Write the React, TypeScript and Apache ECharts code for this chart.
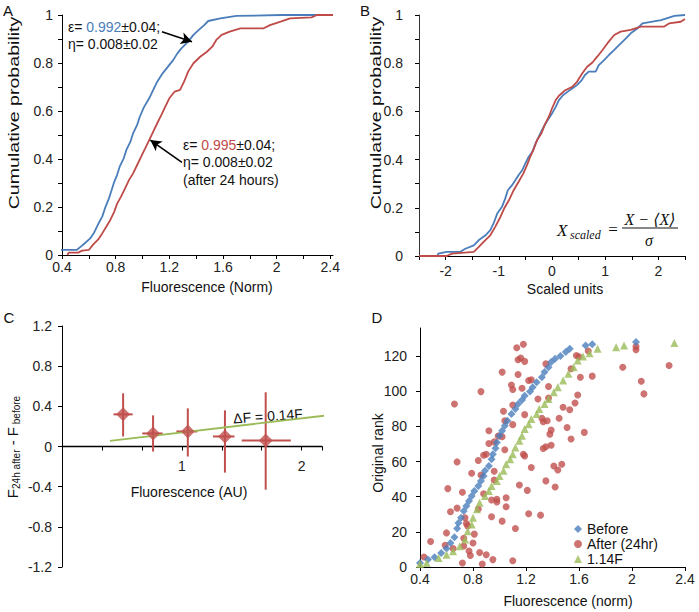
import React, { useEffect, useRef } from 'react';
import * as echarts from 'echarts';

const BLUE = '#4A7EBB';
const RED = '#BE4B48';
const GREEN = '#9BBB59';
const FONT = "'Liberation Sans', Arial, sans-serif";
const SERIF = "'Liberation Serif', 'DejaVu Serif', serif";

// Panel A: cumulative probability vs fluorescence (Norm)
const aBeforeX = [0.30, 0.51, 0.54, 0.57, 0.61, 0.64, 0.67, 0.70, 0.72, 0.75, 0.77, 0.79, 0.81, 0.83, 0.86, 0.88, 0.91, 0.93, 0.96, 0.98, 1.01, 1.05, 1.08, 1.11, 1.15, 1.19, 1.23, 1.26, 1.29, 1.34, 1.38, 1.42, 1.46, 1.49, 1.58, 1.70, 2.04, 2.42];
const aBeforeY = [0.021, 0.021, 0.035, 0.049, 0.069, 0.094, 0.129, 0.16, 0.194, 0.236, 0.271, 0.306, 0.333, 0.368, 0.403, 0.438, 0.472, 0.507, 0.542, 0.576, 0.615, 0.653, 0.688, 0.722, 0.757, 0.785, 0.813, 0.84, 0.861, 0.889, 0.917, 0.938, 0.958, 0.975, 0.986, 0.996, 1.0, 1.0];
const aAfterX = [0.44, 0.45, 0.52, 0.55, 0.60, 0.63, 0.67, 0.70, 0.73, 0.76, 0.79, 0.81, 0.84, 0.87, 0.90, 0.93, 0.96, 0.99, 1.02, 1.05, 1.08, 1.11, 1.14, 1.17, 1.20, 1.24, 1.28, 1.31, 1.34, 1.38, 1.43, 1.48, 1.52, 1.55, 1.59, 1.65, 1.73, 1.90, 1.95, 2.03, 2.10, 2.26, 2.30, 2.42];
const aAfterY = [0.0, 0.01, 0.01, 0.018, 0.021, 0.042, 0.065, 0.09, 0.118, 0.146, 0.181, 0.213, 0.243, 0.278, 0.313, 0.34, 0.375, 0.41, 0.444, 0.479, 0.514, 0.549, 0.583, 0.618, 0.653, 0.681, 0.688, 0.722, 0.764, 0.799, 0.826, 0.847, 0.868, 0.896, 0.917, 0.931, 0.944, 0.944, 0.958, 0.972, 0.986, 0.99, 1.0, 1.0];
const aArrow1 = [[1.145, 0.93], [1.369, 0.889]];
const aArrow2 = [[1.294, 0.386], [1.058, 0.479]];

// Panel B: cumulative probability vs scaled units
const bBeforeX = [-2.5, -2.15, -2.14, -1.98, -1.73, -1.63, -1.47, -1.38, -1.25, -1.16, -1.10, -1.03, -0.94, -0.88, -0.83, -0.75, -0.69, -0.63, -0.56, -0.50, -0.44, -0.37, -0.31, -0.25, -0.19, -0.12, -0.06, 0.0, 0.07, 0.13, 0.21, 0.29, 0.38, 0.47, 0.56, 0.62, 0.69, 0.82, 0.88, 0.98, 1.07, 1.17, 1.26, 1.39, 1.48, 1.61, 1.70, 2.05, 2.30, 2.5];
const bBeforeY = [0, 0, 0.01, 0.017, 0.017, 0.03, 0.044, 0.065, 0.086, 0.107, 0.134, 0.176, 0.204, 0.238, 0.273, 0.294, 0.314, 0.335, 0.356, 0.384, 0.411, 0.432, 0.467, 0.494, 0.522, 0.55, 0.571, 0.591, 0.619, 0.647, 0.668, 0.681, 0.695, 0.709, 0.73, 0.751, 0.765, 0.765, 0.792, 0.813, 0.834, 0.855, 0.875, 0.903, 0.924, 0.945, 0.965, 0.979, 0.996, 1.0];
const bAfterX = [-2.5, -1.98, -1.88, -1.47, -1.38, -1.29, -1.16, -1.07, -0.97, -0.90, -0.81, -0.72, -0.63, -0.54, -0.47, -0.41, -0.34, -0.28, -0.20, -0.14, -0.06, 0.0, 0.07, 0.13, 0.25, 0.38, 0.47, 0.57, 0.66, 0.76, 0.85, 0.95, 1.04, 1.17, 1.29, 1.48, 1.67, 2.11, 2.20, 2.42, 2.5];
const bAfterY = [0, 0, 0.01, 0.017, 0.037, 0.058, 0.086, 0.12, 0.162, 0.197, 0.231, 0.273, 0.307, 0.342, 0.377, 0.411, 0.446, 0.481, 0.508, 0.543, 0.578, 0.612, 0.647, 0.665, 0.688, 0.702, 0.723, 0.758, 0.785, 0.803, 0.827, 0.855, 0.882, 0.917, 0.931, 0.938, 0.952, 0.952, 0.965, 0.972, 0.983];

// Panel C: change in fluorescence after 24 h
const cX = [0.51, 0.76, 1.05, 1.36, 1.70];
const cY = [0.32, 0.13, 0.15, 0.10, 0.06];
const cXLo = [0.43, 0.67, 0.955, 1.26, 1.50];
const cXHi = [0.59, 0.84, 1.13, 1.44, 1.91];
const cYLo = [0.10, -0.05, -0.10, -0.26, -0.43];
const cYHi = [0.53, 0.31, 0.38, 0.36, 0.54];
const cFitX = [0.4, 2.22];
const cFitY = [0.056, 0.311];

// Panel D: original rank vs fluorescence (norm)
const dBeforeX = [0.40, 0.46, 0.51, 0.56, 0.60, 0.63, 0.66, 0.68, 0.69, 0.71, 0.73, 0.75, 0.77, 0.79, 0.81, 0.84, 0.86, 0.88, 0.89, 0.92, 0.94, 0.95, 0.97, 0.98, 1.00, 1.02, 1.04, 1.06, 1.09, 1.12, 1.14, 1.17, 1.19, 1.23, 1.25, 1.28, 1.32, 1.34, 1.37, 1.39, 1.42, 1.46, 1.50, 1.53, 1.65, 1.70, 2.03];
const dBeforeRank = [2.3, 4.2, 5.5, 8, 10.5, 13.7, 17, 21.9, 25.1, 28, 31.8, 34.7, 37.5, 40.4, 43.2, 46.1, 49, 51.8, 54.7, 57.5, 61.3, 64.2, 67.6, 70.9, 74.7, 77.5, 80.4, 83.2, 87, 89.9, 92.8, 95, 97.5, 99.8, 102.3, 105.1, 108, 110.9, 113.7, 116.6, 118.5, 120, 122.3, 124.2, 126.1, 126.7, 128];
const dAfterX = [0.43, 0.48, 0.61, 0.63, 0.60, 0.59, 0.66, 0.68, 0.68, 0.72, 0.65, 0.72, 0.73, 0.74, 0.75, 0.76, 0.73, 0.77, 0.78, 0.80, 0.81, 0.79, 0.84, 0.84, 0.85, 0.86, 0.86, 0.87, 0.88, 0.88, 0.90, 0.90, 0.92, 0.92, 0.94, 0.94, 0.95, 0.96, 0.96, 0.96, 0.98, 0.98, 0.99, 1.02, 1.02, 1.02, 1.03, 1.04, 1.04, 1.05, 1.05, 1.09, 1.10, 1.10, 1.10, 1.10, 1.12, 1.13, 1.18, 1.14, 1.16, 1.19, 1.14, 1.15, 1.17, 1.18, 1.19, 1.19, 1.21, 1.22, 1.24, 1.24, 1.22, 1.31, 1.29, 1.32, 1.33, 1.33, 1.35, 1.37, 1.37, 1.36, 1.38, 1.39, 1.39, 1.35, 1.35, 1.41, 1.44, 1.47, 1.42, 1.48, 1.45, 1.51, 1.53, 1.54, 1.54, 1.57, 1.58, 1.60, 1.59, 1.61, 1.64, 1.70, 1.67, 1.93, 2.03, 2.03, 2.07, 2.09, 2.28];
const dAfterRank = [5.7, 14.5, 44.6, 31.4, 19.4, 12.4, 92.8, 59.8, 33.5, 42.5, 10.5, 2.3, 16.4, 28.0, 24.8, 23.4, 12.0, 9.1, 6.5, 13.7, 18.7, 53.3, 60.6, 33.0, 8.2, 52.4, 99.8, 1.7, 41.7, 63.6, 64.2, 7.0, 70.3, 77.5, 38.1, 28.6, 4.2, 54.5, 71.2, 49.5, 38.5, 37.0, 74.5, 74.1, 26.1, 110.9, 88.6, 83.2, 66.7, 39.4, 34.3, 103.6, 101.0, 92.2, 81.0, 3.6, 21.9, 124.8, 126.7, 117.9, 118.9, 117.0, 109.5, 46.7, 101.7, 64.2, 86.7, 63.2, 43.6, 106.1, 106.5, 56.6, 30.3, 29.5, 95.6, 84.6, 82.7, 67.4, 115.6, 102.7, 96.2, 83.2, 75.6, 77.9, 69.3, 68.4, 49.0, 57.5, 55.2, 58.5, 45.5, 90.9, 84.6, 79.4, 89.5, 72.8, 112.8, 93.3, 120.4, 119.6, 97.9, 108.0, 76.6, 108.6, 122.9, 113.7, 125.5, 123.6, 105.7, 98.5, 114.7];
const dScaledX = [0.40, 0.45, 0.54, 0.60, 0.65, 0.70, 0.74, 0.76, 0.79, 0.80, 0.83, 0.85, 0.89, 0.92, 0.94, 0.98, 1.00, 1.03, 1.05, 1.08, 1.10, 1.12, 1.15, 1.17, 1.19, 1.22, 1.24, 1.28, 1.30, 1.34, 1.37, 1.41, 1.44, 1.48, 1.52, 1.56, 1.59, 1.63, 1.68, 1.74, 1.88, 1.94, 2.32];
const dScaledRank = [1.7, 2.3, 5.1, 7, 9, 11.8, 15.6, 20.4, 24.2, 28, 32.8, 36.6, 40.4, 43.2, 46.1, 49, 51.8, 54.7, 58.5, 61.3, 64.2, 68, 71.8, 74.7, 78.5, 81.3, 84.2, 87, 89.9, 92.8, 95.6, 99.4, 102.3, 106.1, 109.9, 113.7, 117.5, 119.8, 121.7, 124.2, 125.1, 126.1, 127.4];

const zip = (xs: number[], ys: number[]) => xs.map((x, i) => [x, ys[i]]);
const fmt1 = (v: number) => String(Number(v.toFixed(1)));

const axisBase = {
  axisLine: { show: true, onZero: false, lineStyle: { color: '#000', width: 1 } },
  axisTick: { show: true, length: 4, lineStyle: { color: '#000' } },
  splitLine: { show: false },
  axisLabel: { color: '#222', fontSize: 14, fontFamily: FONT },
};

function buildOption(): any {
  const text = (t: string, x: number, y: number, extra: any = {}, style: any = {}) => ({
    type: 'text', x, y, ...extra,
    style: { text: t, fill: '#111', font: `14px ${FONT}`, align: 'center', verticalAlign: 'middle', ...style },
  });
  const cData = cX.map((x, i) => [x, cY[i], cXLo[i], cXHi[i], cYLo[i], cYHi[i]]);
  return {
    animation: false,
    grid: [
      { left: 62, top: 15, width: 271, height: 240 },
      { left: 419, top: 15, width: 266, height: 241 },
      { left: 62, top: 326, width: 260, height: 241 },
      { left: 420, top: 328, width: 265, height: 239 },
    ],
    xAxis: [
      { ...axisBase, type: 'value', gridIndex: 0, min: 0.4, max: 2.42, interval: 0.2,
        axisLabel: { ...axisBase.axisLabel, margin: 5, showMaxLabel: false,
          formatter: (v: number) => (Math.round(v * 10) % 4 === 0 ? fmt1(v) : '') } },
      { ...axisBase, type: 'value', gridIndex: 1, min: -2.5, max: 2.5, interval: 0.5,
        axisLabel: { ...axisBase.axisLabel, margin: 8,
          formatter: (v: number) => (Math.abs(v - Math.round(v)) < 1e-6 ? String(Math.round(v)) : '') } },
      { ...axisBase, type: 'value', gridIndex: 2, min: 0, max: 2.17, interval: 1 / 3, offset: -120.5,
        axisLine: { show: true, onZero: false, lineStyle: { color: '#000', width: 1.3 } },
        axisLabel: { ...axisBase.axisLabel, margin: 12,
          formatter: (v: number) => { const r = Math.round(v); return Math.abs(v - r) < 1e-6 && r > 0 ? String(r) : ''; } } },
      { ...axisBase, type: 'value', gridIndex: 3, min: 0.4, max: 2.4, interval: 0.4,
        axisLabel: { ...axisBase.axisLabel, margin: 5, formatter: fmt1 } },
    ],
    yAxis: [
      { ...axisBase, type: 'value', gridIndex: 0, min: 0, max: 1, interval: 0.1,
        axisLabel: { ...axisBase.axisLabel, margin: 9,
          formatter: (v: number) => (Math.round(v * 10) % 2 === 0 ? fmt1(v) : '') } },
      { ...axisBase, type: 'value', gridIndex: 1, min: 0, max: 1, interval: 0.1,
        axisLine: { show: true, onZero: false, lineStyle: { color: '#333', width: 1 } },
        axisLabel: { ...axisBase.axisLabel, margin: 16,
          formatter: (v: number) => (Math.round(v * 10) % 2 === 0 ? fmt1(v) : '') } },
      { ...axisBase, type: 'value', gridIndex: 2, min: -1.2, max: 1.2, interval: 0.4,
        axisLabel: { ...axisBase.axisLabel, margin: 10,
          formatter: (v: number) => (Math.abs(v) < 1e-9 ? '0' : v.toFixed(1)) } },
      { ...axisBase, type: 'value', gridIndex: 3, min: 0, max: 136, interval: 20,
        axisLabel: { ...axisBase.axisLabel, margin: 13, showMaxLabel: false } },
    ],
    legend: {
      data: ['Before', 'After (24hr)', '1.14F'],
      orient: 'vertical', left: 569, top: 517, itemWidth: 8, itemHeight: 8, itemGap: 1,
      textStyle: { fontSize: 14, fontFamily: FONT, color: '#111', padding: [0, 0, 0, 0] },
      selectedMode: false,
    },
    series: [
      { name: 'A before', type: 'line', xAxisIndex: 0, yAxisIndex: 0, data: zip(aBeforeX, aBeforeY), showSymbol: false,
        lineStyle: { color: BLUE, width: 1.8 }, itemStyle: { color: BLUE },
        markLine: { silent: true, symbol: ['none', 'arrow'], symbolSize: [9, 11], animation: false,
          lineStyle: { color: '#000', width: 1.6, type: 'solid' }, label: { show: false },
          data: [[{ coord: aArrow1[0] }, { coord: aArrow1[1] }], [{ coord: aArrow2[0] }, { coord: aArrow2[1] }]] } },
      { name: 'A after', type: 'line', xAxisIndex: 0, yAxisIndex: 0, data: zip(aAfterX, aAfterY), showSymbol: false,
        lineStyle: { color: RED, width: 1.8 }, itemStyle: { color: RED } },
      { name: 'B before', type: 'line', xAxisIndex: 1, yAxisIndex: 1, data: zip(bBeforeX, bBeforeY), showSymbol: false,
        lineStyle: { color: BLUE, width: 1.8 }, itemStyle: { color: BLUE } },
      { name: 'B after', type: 'line', xAxisIndex: 1, yAxisIndex: 1, data: zip(bAfterX, bAfterY), showSymbol: false,
        lineStyle: { color: RED, width: 1.8 }, itemStyle: { color: RED } },
      { name: 'C fit', type: 'line', xAxisIndex: 2, yAxisIndex: 2, data: zip(cFitX, cFitY), showSymbol: false, clip: false,
        lineStyle: { color: GREEN, width: 1.8 }, itemStyle: { color: GREEN } },
      { name: 'C err', type: 'custom', xAxisIndex: 2, yAxisIndex: 2, data: cData, encode: { x: 0, y: 1 },
        renderItem: (params: any, api: any) => {
          const y = api.value(1), x = api.value(0);
          const l = api.coord([api.value(2), y]);
          const r = api.coord([api.value(3), y]);
          const b = api.coord([x, api.value(4)]);
          const t = api.coord([x, api.value(5)]);
          const st = { stroke: '#C0504D', lineWidth: 2 };
          return { type: 'group', children: [
            { type: 'line', shape: { x1: l[0], y1: l[1], x2: r[0], y2: r[1] }, style: st },
            { type: 'line', shape: { x1: b[0], y1: b[1], x2: t[0], y2: t[1] }, style: st },
          ] };
        } },
      { name: 'C mean', type: 'scatter', xAxisIndex: 2, yAxisIndex: 2, data: zip(cX, cY), symbol: 'diamond', symbolSize: 14,
        itemStyle: { color: '#C0504D' }, z: 5 },
      { name: 'Before', type: 'scatter', xAxisIndex: 3, yAxisIndex: 3, data: zip(dBeforeX, dBeforeRank), symbol: 'diamond', symbolSize: 8,
        itemStyle: { color: BLUE }, z: 4 },
      { name: 'After (24hr)', type: 'scatter', xAxisIndex: 3, yAxisIndex: 3, data: zip(dAfterX, dAfterRank), symbol: 'circle', symbolSize: 7,
        itemStyle: { color: '#C0504D' }, z: 3 },
      { name: '1.14F', type: 'scatter', xAxisIndex: 3, yAxisIndex: 3, data: zip(dScaledX, dScaledRank), symbol: 'triangle', symbolSize: 8,
        itemStyle: { color: GREEN }, z: 4 },
    ],
    graphic: [
      text('A', 8, 10, {}, { font: `15px ${FONT}` }),
      text('B', 365, 10, {}, { font: `15px ${FONT}` }),
      text('C', 9, 317, {}, { font: `15px ${FONT}` }),
      text('D', 377, 317, {}, { font: `15px ${FONT}` }),
      // axis titles
      text('Fluorescence (Norm)', 207, 287),
      text('Cumulative probability', 14, 113, { rotation: Math.PI / 2, scaleX: 1.4 }),
      text('Scaled units', 565, 289),
      text('Cumulative probability', 376, 113, { rotation: Math.PI / 2, scaleX: 1.4 }),
      text('Fluorescence (AU)', 189, 492),
      { type: 'text', x: 12, y: 447, rotation: Math.PI / 2,
        style: { text: '{a|F}{s|24h after}{a| - F}{s| before}', align: 'center', verticalAlign: 'middle', fill: '#111',
          rich: { a: { fontSize: 15, fontFamily: FONT, lineHeight: 18, verticalAlign: 'middle', fill: '#111' },
                  s: { fontSize: 10, fontFamily: FONT, verticalAlign: 'bottom', lineHeight: 18, fill: '#111' } } } },
      text('Fluorescence (norm)', 568, 601),
      text('Original rank', 378, 453, { rotation: Math.PI / 2 }),
      // panel A annotations
      { type: 'text', x: 68, y: 27, style: { text: '{k|ε= }{b|0.992}{k|±0.04;}', align: 'left', verticalAlign: 'middle',
        rich: { k: { fontSize: 14, fontFamily: FONT, fill: '#111' }, b: { fontSize: 14, fontFamily: FONT, fill: BLUE } } } },
      text('η= 0.008±0.02', 68, 44, {}, { align: 'left' }),
      { type: 'text', x: 183, y: 145, style: { text: '{k|ε= }{r|0.995}{k|±0.04;}', align: 'left', verticalAlign: 'middle',
        rich: { k: { fontSize: 14, fontFamily: FONT, fill: '#111' }, r: { fontSize: 14, fontFamily: FONT, fill: RED } } } },
      text('η= 0.008±0.02', 183, 162, {}, { align: 'left' }),
      text('(after 24 hours)', 183, 180, {}, { align: 'left' }),
      // panel B formula
      text('X', 557, 230, {}, { align: 'left', font: `italic 17px ${SERIF}` }),
      text('scaled', 570, 235, {}, { align: 'left', font: `italic 12px ${SERIF}` }),
      text('=', 613, 229, {}, { font: `17px ${SERIF}` }),
      text('X − ⟨X⟩', 650, 219, {}, { font: `italic 16px ${SERIF}` }),
      { type: 'line', shape: { x1: 622, y1: 228, x2: 678, y2: 228 }, style: { stroke: '#111', lineWidth: 1 } },
      text('σ', 649, 240, {}, { font: `italic 16px ${SERIF}` }),
      // panel C fit label
      text('ΔF = 0.14F', 268, 416, { rotation: 0.07 }),
    ],
  };
}

export default function App() {
  const ref = useRef<HTMLDivElement>(null);
  useEffect(() => {
    const chart = echarts.init(ref.current as HTMLDivElement, null, { renderer: 'svg' });
    chart.setOption(buildOption());
    return () => chart.dispose();
  }, []);
  return <div ref={ref} style={{ position: 'fixed', left: 0, top: 0, width: 699, height: 612, background: '#fff' }} />;
}
